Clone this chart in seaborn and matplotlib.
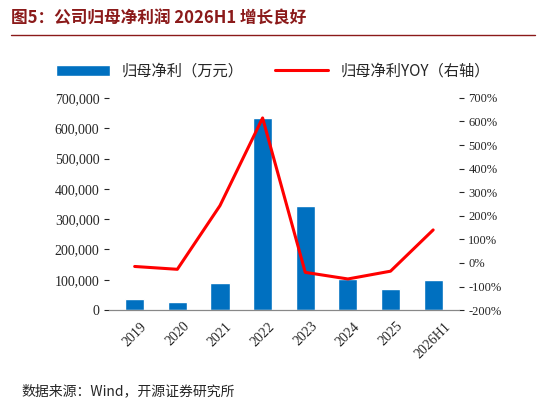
import matplotlib
matplotlib.use('Agg')
import matplotlib.pyplot as plt
import seaborn as sns
import pandas as pd
from matplotlib.ticker import FuncFormatter

sns.set_style('white')
plt.rcParams['font.family'] = ['Noto Sans CJK SC', 'DejaVu Sans']

years = ['2019', '2020', '2021', '2022', '2023', '2024', '2025', '2026H1']
profit = [37000, 28000, 90000, 635000, 342000, 103000, 68000, 98000]
yoy = [-15, -27, 243, 615, -40, -68, -35, 140]

df = pd.DataFrame({'year': years, 'profit': profit, 'yoy': yoy})

fig = plt.figure(figsize=(5.46, 4.08), dpi=100)
ax = fig.add_axes([0.2, 0.24, 0.64, 0.52])
sns.barplot(data=df, x='year', y='profit', color='#0070C0', width=0.45, ax=ax,
            saturation=1, label='归母净利（万元）')
if ax.get_legend():
    ax.get_legend().remove()
ax.set_ylim(0, 700000)
ax.set_yticks(range(0, 700001, 100000))
ax.yaxis.set_major_formatter(FuncFormatter(lambda v, p: f'{int(v):,}'))
ax.set_xlabel('')
ax.set_ylabel('')
ax.tick_params(axis='x', rotation=45, labelsize=10)
ax.tick_params(axis='y', labelsize=10)
for lab in ax.get_xticklabels() + ax.get_yticklabels():
    lab.set_fontfamily('Liberation Serif')

ax2 = ax.twinx()
ax2.plot(range(len(years)), yoy, color='#FF0000', lw=2.2, label='归母净利YOY（右轴）')
ax2.set_ylim(-200, 700)
ax2.set_yticks(range(-200, 701, 100))
ax2.yaxis.set_major_formatter(FuncFormatter(lambda v, p: f'{int(v)}%'))
ax2.tick_params(axis='y', labelsize=9)
for lab in ax2.get_yticklabels():
    lab.set_fontfamily('Liberation Serif')

for a in (ax, ax2):
    for s in a.spines.values():
        s.set_visible(False)
    a.spines['bottom'].set_visible(True)
    a.spines['bottom'].set_color('#888888')

h1, l1 = ax.get_legend_handles_labels()
h2, l2 = ax2.get_legend_handles_labels()
fig.legend(h1 + h2, l1 + l2, loc='upper center', bbox_to_anchor=(0.5, 0.88),
           ncol=2, frameon=False, fontsize=11, handlelength=3.5, columnspacing=2)

fig.text(0.02, 0.955, '图5：公司归母净利润 2026H1 增长良好', fontsize=12,
         fontweight='bold', color='#8B1A1A', va='center')
fig.add_artist(plt.Line2D([0.02, 0.98], [0.915, 0.915], color='#8B1A1A', lw=1))
fig.text(0.04, 0.04, '数据来源：Wind，开源证券研究所', fontsize=10, va='center')

fig.savefig('out.png', dpi=100)
